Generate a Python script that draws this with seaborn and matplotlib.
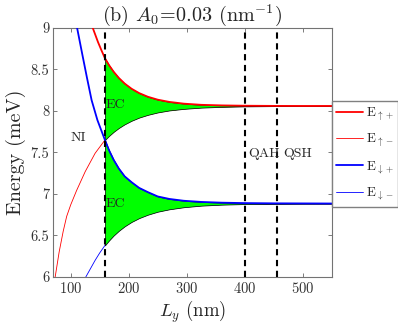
import matplotlib
matplotlib.use("Agg")
import matplotlib.pyplot as plt
from matplotlib.lines import Line2D
import seaborn as sns

# values: Ly (nm) -> energy (meV)
# shared Ly grid to the right of the first phase boundary
L_right = [159, 166, 174, 183, 193, 205, 218, 233, 250, 270, 295, 325, 360, 400, 450, 500, 550]

# E up+
up_plus_L_left = [132, 138, 147, 153]
up_plus_E_left = [9.12, 9.0, 8.83, 8.73]
up_plus_E_right = [8.635, 8.552, 8.472, 8.397, 8.330, 8.267, 8.215, 8.171, 8.136,
                   8.109, 8.088, 8.074, 8.067, 8.063, 8.061, 8.06, 8.06]

# E up-
up_minus_L_left = [72, 75, 80, 87, 93, 100, 110, 125, 142]
up_minus_E_left = [5.95, 6.08, 6.3, 6.55, 6.73, 6.87, 7.04, 7.27, 7.49]
up_minus_E_right = [7.65, 7.699, 7.748, 7.795, 7.839, 7.882, 7.920, 7.953, 7.982,
                    8.006, 8.025, 8.040, 8.049, 8.055, 8.058, 8.059, 8.06]

# E down+
dn_plus_L_left = [107, 111, 120, 128, 136, 146, 153]
dn_plus_E_left = [9.15, 9.0, 8.68, 8.40, 8.13, 7.89, 7.76]
dn_plus_E_right = [7.65, 7.527, 7.411, 7.305, 7.212, 7.141, 7.073, 7.022, 6.970,
                   6.940, 6.918, 6.904, 6.895, 6.890, 6.887, 6.886, 6.885]

# E down-
dn_minus_L_left = [124, 126, 134, 142, 150]
dn_minus_E_left = [5.97, 6.0, 6.1, 6.2, 6.29]
dn_minus_E_right = [6.38, 6.439, 6.499, 6.556, 6.610, 6.663, 6.709, 6.750, 6.786,
                    6.815, 6.840, 6.859, 6.871, 6.878, 6.882, 6.884, 6.885]

boundaries = [159, 400, 455]
xticks = [100, 200, 300, 400, 500]
yticks = [6, 6.5, 7, 7.5, 8, 8.5, 9]
ytick_labels = ["6", "6.5", "7", "7.5", "8", "8.5", "9"]

sns.set_style("ticks")
plt.rcParams["font.family"] = ["cmr10", "DejaVu Serif"]
plt.rcParams["mathtext.fontset"] = "cm"
plt.rcParams["axes.unicode_minus"] = False
plt.rcParams["axes.formatter.use_mathtext"] = True

fig = plt.figure(figsize=(3.98, 3.27), dpi=100)
ax = fig.add_axes([0.134, 0.153, 0.6995, 0.7615])

curves = [
    (up_plus_L_left, up_plus_E_left, up_plus_E_right, "red", 1.3, r"E$_{\uparrow+}$", 3),
    (up_minus_L_left, up_minus_E_left, up_minus_E_right, "red", 0.6, r"E$_{\uparrow-}$", 1.5),
    (dn_plus_L_left, dn_plus_E_left, dn_plus_E_right, "blue", 1.3, r"E$_{\downarrow+}$", 3),
    (dn_minus_L_left, dn_minus_E_left, dn_minus_E_right, "blue", 0.6, r"E$_{\downarrow-}$", 1.5),
]
handles = []
for L_left, E_left, E_right, col, lw, lab, z in curves:
    sns.lineplot(x=L_left + L_right, y=E_left + E_right, color=col, lw=lw,
                 ax=ax, estimator=None, sort=False, zorder=z)
    handles.append(Line2D([], [], color=col, lw=lw, label=lab))

# edge-state regions
ax.fill_between(L_right, up_plus_E_right, up_minus_E_right, facecolor="#00ff00",
                edgecolor="k", lw=0.5, zorder=2)
ax.fill_between(L_right, dn_plus_E_right, dn_minus_E_right, facecolor="#00ff00",
                edgecolor="k", lw=0.5, zorder=2)

for b in boundaries:
    ax.axvline(b, color="k", ls=(0, (3, 2.2)), lw=1.5, zorder=4)

txt = dict(fontsize=10, color="0.15", zorder=5)
ax.text(113, 7.68, "NI", ha="center", va="center", **txt)
ax.text(160, 8.07, "EC", ha="left", va="center", **txt)
ax.text(160, 6.88, "EC", ha="left", va="center", **txt)
ax.text(406, 7.48, "QAH", ha="left", va="center", **txt)
ax.text(467, 7.48, "QSH", ha="left", va="center", **txt)

ax.set_xlim(70, 550)
ax.set_ylim(6, 9)
ax.set_xticks(xticks)
ax.set_yticks(yticks)
ax.set_yticklabels(ytick_labels)
ax.tick_params(direction="in", top=True, right=True, length=3, width=0.6,
               color="0.4", labelsize=10.5, labelcolor="0.2", pad=3)
for s in ax.spines.values():
    s.set_color("0.45")
    s.set_linewidth(0.8)

ax.set_title(r"(b) $A_0\!=\!0.03$ (nm$^{-1}$)", fontsize=14.5, pad=5)
ax.set_xlabel(r"$L_y$ (nm)", fontsize=13.5, labelpad=2)
ax.set_ylabel("Energy (meV)", fontsize=14.5, labelpad=3)

ax.legend(handles=handles, loc="upper left", bbox_to_anchor=(1.0, 0.707),
          borderaxespad=0, frameon=True, fancybox=False, edgecolor="0.5",
          framealpha=1, handlelength=2.0, handletextpad=0.25, labelspacing=0.72,
          borderpad=0.35, fontsize=9.5)

fig.savefig("out.png", dpi=100)
